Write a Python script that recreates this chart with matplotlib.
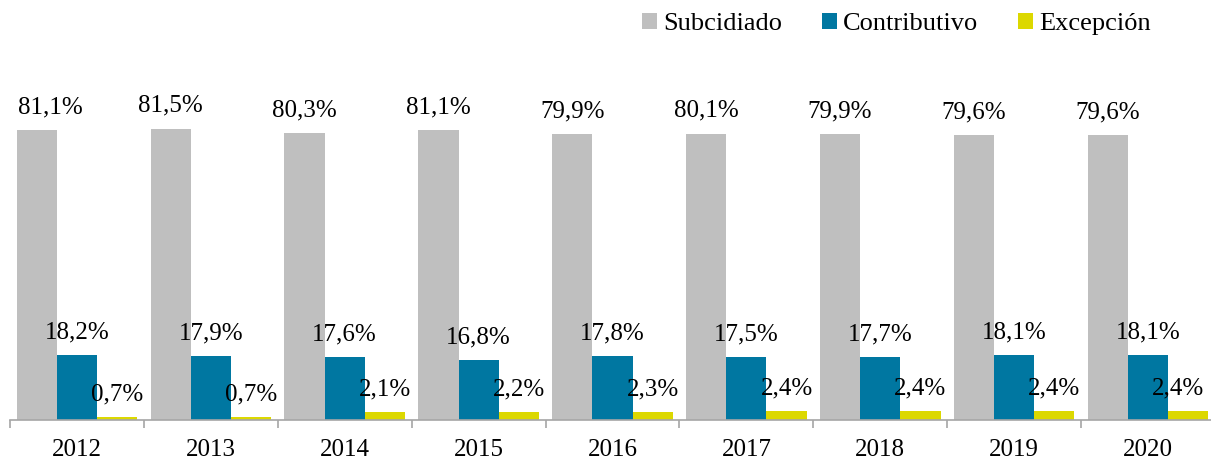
import numpy as np
from matplotlib import pyplot as plt

years = ['2012', '2013', '2014', '2015', '2016', '2017', '2018', '2019', '2020']
subcidiado = [81.1, 81.5, 80.3, 81.1, 79.9, 80.1, 79.9, 79.6, 79.6]
contributivo = [18.2, 17.9, 17.6, 16.8, 17.8, 17.5, 17.7, 18.1, 18.1]
excepcion = [0.7, 0.7, 2.1, 2.2, 2.3, 2.4, 2.4, 2.4, 2.4]

series = [('Subcidiado', subcidiado, '#bfbfbf'),
          ('Contributivo', contributivo, '#0077a1'),
          ('Excepción', excepcion, '#dcd800')]

plt.rcParams['font.family'] = ['Liberation Serif', 'DejaVu Serif']

fig = plt.figure(figsize=(12.11, 4.62), dpi=100)
ax = fig.add_axes([10 / 1211, 42 / 462, 1205 / 1211, 357.6 / 462])

x = np.arange(len(years))
w = 0.3
offsets = [-w, 0, w]

for k, (name, vals, col) in enumerate(series):
    xs = x + offsets[k]
    ax.bar(xs, vals, width=w, color=col, label=name, edgecolor='none')
    for i, v in enumerate(vals):
        dx = 0
        if k == 0 and i == 0:
            dx = 10
        if k == 2 and i == len(vals) - 1:
            dx = -7
        ax.annotate(f'{v:.1f}%'.replace('.', ','), (xs[i], v),
                    xytext=(dx, 12), textcoords='offset points',
                    ha='center', va='baseline', fontsize=18, color='black')

ax.set_xlim(-0.5, len(years) - 0.5)
ax.set_ylim(0, 100)
ax.set_yticks([])
for s in ['top', 'right', 'left']:
    ax.spines[s].set_visible(False)
ax.spines['bottom'].set_color('#a6a6a6')
ax.spines['bottom'].set_linewidth(1.2)

ax.set_xticks(x)
ax.set_xticklabels(years, fontsize=18)
ax.tick_params(axis='x', which='major', length=0, pad=14)
ax.set_xticks(np.arange(-0.5, len(years), 1.0), minor=True)
ax.tick_params(axis='x', which='minor', length=6, width=1.2, color='#a6a6a6')

fig.legend(loc='center right', bbox_to_anchor=(0.959, 0.948), ncol=3,
           frameon=False, fontsize=19, handlelength=0.55, handleheight=0.55,
           handletextpad=0.25, columnspacing=1.5, borderaxespad=0)

fig.savefig('out.png', dpi=100)
